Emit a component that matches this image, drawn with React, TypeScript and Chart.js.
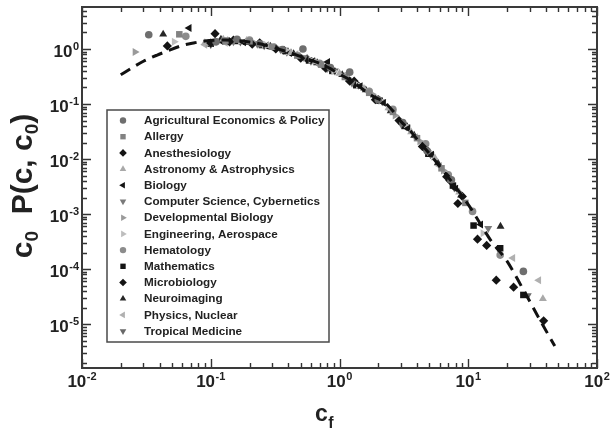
import React, { useEffect, useRef } from 'react';
import { Chart, registerables } from 'chart.js';
import { drawPoint } from 'chart.js/helpers';

Chart.register(...registerables);

// ---------- data ----------
const seriesNames = [
  'Agricultural Economics & Policy',
  'Allergy',
  'Anesthesiology',
  'Astronomy & Astrophysics',
  'Biology',
  'Computer Science, Cybernetics',
  'Developmental Biology',
  'Engineering, Aerospace',
  'Hematology',
  'Mathematics',
  'Microbiology',
  'Neuroimaging',
  'Physics, Nuclear',
  'Tropical Medicine',
];

const agriC = [0.033, 0.11, 0.16, 0.24, 0.36, 0.52, 0.85, 1.2, 2.0, 3.1, 4.8, 7.4, 26.8];
const agriV = [1.82, 1.35, 1.5, 1.25, 0.98, 1.0, 0.46, 0.38, 0.12, 0.046, 0.014, 0.0042, 9.1e-5];

const allergyC = [0.057, 0.13, 0.2, 0.3, 0.47, 0.72, 1.1, 1.7, 2.6, 4.0, 6.2, 9.5];
const allergyV = [1.85, 1.42, 1.38, 1.1, 0.76, 0.52, 0.31, 0.16, 0.072, 0.024, 0.0068, 0.0016];

const anesC = [0.046, 0.1, 0.14, 0.21, 0.32, 0.5, 0.78, 1.2, 1.9, 2.9, 4.4, 6.8, 8.3, 11.8, 16.5, 22.5];
const anesV = [1.14, 1.28, 1.35, 1.22, 1.0, 0.68, 0.45, 0.26, 0.12, 0.05, 0.017, 0.0048, 0.00156, 3.5e-4, 6.3e-5, 4.7e-5];

const astroC = [0.09, 0.125, 0.19, 0.28, 0.42, 0.65, 1.0, 1.55, 2.4, 3.6, 5.5, 8.5, 38];
const astroV = [1.3, 1.5, 1.42, 1.15, 0.86, 0.58, 0.36, 0.19, 0.085, 0.031, 0.0105, 0.0025, 2.9e-5];

const bioC = [0.068, 0.12, 0.18, 0.27, 0.41, 0.62, 0.81, 1.45, 2.2, 3.4, 5.2, 8.0, 12.5];
const bioV = [2.4, 1.4, 1.33, 1.15, 0.85, 0.6, 0.58, 0.21, 0.105, 0.036, 0.012, 0.0029, 6.5e-4];

const csC = [0.1, 0.15, 0.23, 0.35, 0.53, 0.8, 1.25, 1.9, 3.0, 4.6, 7.0, 14.3];
const csV = [1.2, 1.36, 1.22, 0.97, 0.7, 0.44, 0.24, 0.13, 0.044, 0.016, 0.0044, 5.5e-4];

const devC = [0.0258, 0.095, 0.14, 0.22, 0.33, 0.5, 0.76, 1.15, 1.8, 2.7, 4.2, 6.4];
const devV = [0.885, 1.25, 1.45, 1.28, 1.04, 0.74, 0.48, 0.3, 0.15, 0.062, 0.021, 0.0062];

const engC = [0.052, 0.11, 0.17, 0.26, 0.4, 0.6, 0.9, 1.4, 2.1, 3.3, 5.0, 13];
const engV = [1.36, 1.32, 1.4, 1.22, 0.9, 0.63, 0.4, 0.22, 0.115, 0.04, 0.0135, 4.5e-4];

const hemC = [0.064, 0.13, 0.2, 0.31, 0.7, 1.7, 2.6, 4.67, 7.0, 10.8, 17.7];
const hemV = [1.7, 1.38, 1.45, 1.08, 0.55, 0.17, 0.08, 0.019, 0.0052, 1.12e-3, 1.8e-4];

const mathC = [0.1, 0.16, 0.25, 0.38, 0.58, 0.88, 1.35, 2.05, 3.2, 4.9, 7.6, 11, 17.7, 26.8];
const mathV = [1.25, 1.4, 1.18, 0.92, 0.62, 0.4, 0.22, 0.115, 0.04, 0.0125, 0.0033, 6.2e-4, 2.4e-4, 3.4e-5];

const microC = [0.108, 0.15, 0.24, 0.37, 0.56, 0.86, 1.3, 2.0, 3.1, 4.7, 7.2, 9.0, 13.9, 38.5];
const microV = [1.9, 1.45, 1.3, 0.95, 0.66, 0.43, 0.26, 0.12, 0.044, 0.015, 0.0041, 0.0021, 2.7e-4, 1.15e-5];

const neuroC = [0.0427, 0.12, 0.19, 0.29, 0.44, 0.67, 1.05, 1.6, 2.5, 3.8, 5.8, 8.8, 17.8];
const neuroV = [1.85, 1.5, 1.3, 1.12, 0.82, 0.56, 0.34, 0.18, 0.075, 0.027, 0.0085, 0.0022, 6e-4];

const physC = [0.09, 0.13, 0.2, 0.3, 0.46, 0.7, 1.08, 1.65, 2.5, 3.9, 6.0, 22.2, 35.3];
const physV = [1.2, 1.3, 1.35, 1.05, 0.8, 0.52, 0.33, 0.17, 0.078, 0.025, 0.0075, 1.6e-4, 6.3e-5];

const tropC = [0.11, 0.17, 0.26, 0.39, 0.6, 0.92, 1.4, 2.15, 3.3, 5.1, 7.8, 29];
const tropV = [1.4, 1.35, 1.15, 0.88, 0.6, 0.4, 0.22, 0.11, 0.039, 0.012, 0.003, 3.3e-5];

// dashed fit curve
const fitC = [0.02, 0.025, 0.03, 0.038, 0.045, 0.06, 0.075, 0.09, 0.11, 0.13, 0.16, 0.2, 0.25, 0.3, 0.37, 0.45, 0.55, 0.7, 0.85, 1.0, 1.25, 1.5, 1.8, 2.2, 2.6, 3.0, 3.5, 4.0, 5.0, 6.5, 8.0, 10.5, 12, 15, 20, 26, 36, 47];
const fitV = [0.34, 0.47, 0.6, 0.77, 0.9, 1.16, 1.3, 1.4, 1.45, 1.46, 1.43, 1.34, 1.22, 1.08, 0.93, 0.8, 0.67, 0.55, 0.44, 0.35, 0.26, 0.19, 0.14, 0.11, 0.075, 0.048, 0.034, 0.023, 0.0125, 0.0058, 0.0031, 0.00126, 7.6e-4, 3.3e-4, 1.4e-4, 4.8e-5, 1.2e-5, 4e-6];

const seriesC = [agriC, allergyC, anesC, astroC, bioC, csC, devC, engC, hemC, mathC, microC, neuroC, physC, tropC];
const seriesV = [agriV, allergyV, anesV, astroV, bioV, csV, devV, engV, hemV, mathV, microV, neuroV, physV, tropV];

const seriesColors = ['#6e6e6e', '#828282', '#141414', '#a9a9a9', '#141414', '#7a7a7a', '#9a9a9a', '#bdbdbd', '#8c8c8c', '#141414', '#141414', '#262626', '#b0b0b0', '#686868'];
const seriesStyles = ['circle', 'rect', 'rectRot', 'triangle', 'triangle', 'triangle', 'triangle', 'triangle', 'circle', 'rect', 'rectRot', 'triangle', 'triangle', 'triangle'];
const seriesRotations = [0, 0, 0, 0, 270, 180, 90, 90, 0, 0, 0, 0, 270, 180];

const xMin = 0.01;
const xMax = 100;
const yMin = 1.6e-6;
const yMax = 5.8;
const xDecades = [-2, -1, 0, 1, 2];
const yDecades = [-6, -5, -4, -3, -2, -1, 0];

const FONT = "'Liberation Sans', Arial, Helvetica, sans-serif";
const INK = '#222222';

function drawPow(ctx: CanvasRenderingContext2D, e: number, x: number, y: number, align: 'center' | 'right') {
  ctx.font = `bold 17px ${FONT}`;
  const wb = ctx.measureText('10').width;
  ctx.font = `bold 11px ${FONT}`;
  const exp = String(e);
  const we = ctx.measureText(exp).width;
  const total = wb + we + 0.5;
  const sx = align === 'center' ? x - total / 2 : x - total;
  ctx.textAlign = 'left';
  ctx.textBaseline = 'alphabetic';
  ctx.font = `bold 17px ${FONT}`;
  ctx.fillText('10', sx, y);
  ctx.font = `bold 11px ${FONT}`;
  ctx.fillText(exp, sx + wb + 0.5, y - 7);
}

const overlayPlugin = {
  id: 'overlay',
  afterDatasetsDraw(chart: any) {
    const ctx: CanvasRenderingContext2D = chart.ctx;
    const xs = chart.scales.x;
    const ys = chart.scales.y;
    const { left, right, top, bottom } = chart.chartArea;
    ctx.save();

    // legend box
    const lx0 = 107, ly0 = 110, lx1 = 329, ly1 = 342;
    ctx.fillStyle = '#ffffff';
    ctx.fillRect(lx0, ly0, lx1 - lx0, ly1 - ly0);
    ctx.strokeStyle = '#4a4a4a';
    ctx.lineWidth = 1.5;
    ctx.strokeRect(lx0, ly0, lx1 - lx0, ly1 - ly0);
    chart.data.datasets.forEach((ds: any, i: number) => {
      if (i >= seriesNames.length) return;
      const ry = 120.5 + i * 16.2;
      ctx.fillStyle = ds.backgroundColor;
      ctx.strokeStyle = ds.backgroundColor;
      drawPoint(ctx, { pointStyle: ds.pointStyle, rotation: ds.pointRotation, radius: ds.pointStyle === 'circle' ? 3.2 : 3.8, borderWidth: 0 } as any, 123, ry);
      ctx.fillStyle = INK;
      ctx.font = `bold 11.7px ${FONT}`;
      ctx.textAlign = 'left';
      ctx.textBaseline = 'middle';
      ctx.fillText(ds.label, 144, ry + 0.5);
    });

    // ticks
    ctx.strokeStyle = '#333333';
    ctx.lineWidth = 1.4;
    ctx.beginPath();
    xDecades.forEach((e) => {
      for (let m = 1; m <= 9; m++) {
        const v = m * Math.pow(10, e);
        if (v < xMin * 0.999 || v > xMax * 1.001) continue;
        const px = Math.round(xs.getPixelForValue(v)) + 0.5;
        const len = m === 1 ? 9 : 5;
        ctx.moveTo(px, bottom);
        ctx.lineTo(px, bottom - len);
        ctx.moveTo(px, top);
        ctx.lineTo(px, top + len);
      }
    });
    yDecades.forEach((e) => {
      for (let m = 1; m <= 9; m++) {
        const v = m * Math.pow(10, e);
        if (v < yMin || v > yMax) continue;
        const py = Math.round(ys.getPixelForValue(v)) + 0.5;
        const len = m === 1 ? 9 : 5;
        ctx.moveTo(left, py);
        ctx.lineTo(left + len, py);
        ctx.moveTo(right, py);
        ctx.lineTo(right - len, py);
      }
    });
    ctx.stroke();

    // frame
    ctx.strokeStyle = '#3a3a3a';
    ctx.lineWidth = 2;
    ctx.strokeRect(left, top, right - left, bottom - top);

    // tick labels
    ctx.fillStyle = INK;
    xDecades.forEach((e) => {
      drawPow(ctx, e, xs.getPixelForValue(Math.pow(10, e)), bottom + 19, 'center');
    });
    yDecades.forEach((e) => {
      const v = Math.pow(10, e);
      if (v < yMin || v > yMax) return;
      drawPow(ctx, e, left - 3, ys.getPixelForValue(v) + 8, 'right');
    });

    // x title c_f
    ctx.textAlign = 'left';
    ctx.textBaseline = 'alphabetic';
    ctx.font = `bold 23px ${FONT}`;
    ctx.fillText('c', 315, 421);
    const wc = ctx.measureText('c').width;
    ctx.font = `bold 16px ${FONT}`;
    ctx.fillText('f', 315 + wc + 0.5, 428);

    // y title c0 P(c, c0)
    const parts = [
      { t: 'c', s: 30, d: 0 },
      { t: '0', s: 19, d: 6 },
      { t: '  P(c, ', s: 30, d: 0 },
      { t: 'c', s: 30, d: 0 },
      { t: '0', s: 19, d: 6 },
      { t: ')', s: 30, d: 0 },
    ];
    let total = 0;
    parts.forEach((p) => {
      ctx.font = `bold ${p.s}px ${FONT}`;
      total += ctx.measureText(p.t).width;
    });
    ctx.translate(32, 186);
    ctx.rotate(-Math.PI / 2);
    let cx = -total / 2;
    parts.forEach((p) => {
      ctx.font = `bold ${p.s}px ${FONT}`;
      ctx.fillText(p.t, cx, p.d);
      cx += ctx.measureText(p.t).width;
    });

    ctx.restore();
  },
};

export default function App() {
  const canvasRef = useRef<HTMLCanvasElement | null>(null);

  useEffect(() => {
    if (!canvasRef.current) return;
    const datasets: any[] = seriesNames.map((name, i) => ({
      type: 'scatter',
      label: name,
      data: seriesC[i].map((c, j) => ({ x: c, y: seriesV[i][j] })),
      pointStyle: seriesStyles[i],
      pointRotation: seriesRotations[i],
      pointRadius: seriesStyles[i] === 'circle' ? 3.8 : 4.6,
      backgroundColor: seriesColors[i],
      borderColor: seriesColors[i],
      borderWidth: 0,
      showLine: false,
      order: 1,
    }));
    datasets.push({
      type: 'line',
      label: 'fit',
      data: fitC.map((c, j) => ({ x: c, y: fitV[j] })),
      borderColor: '#111111',
      borderWidth: 3,
      borderDash: [11, 7],
      pointRadius: 0,
      fill: false,
      showLine: true,
      cubicInterpolationMode: 'monotone',
      order: 0,
    });

    const chart = new Chart(canvasRef.current, {
      type: 'scatter',
      data: { datasets },
      options: {
        animation: false,
        responsive: false,
        events: [],
        layout: { padding: { left: 82, top: 7, right: 17, bottom: 62 } },
        scales: {
          x: { type: 'logarithmic', min: xMin, max: xMax, display: false },
          y: { type: 'logarithmic', min: yMin, max: yMax, display: false },
        },
        plugins: {
          legend: { display: false },
          tooltip: { enabled: false },
        },
      },
      plugins: [overlayPlugin],
    } as any);
    return () => chart.destroy();
  }, []);

  return (
    <div style={{ position: 'fixed', left: 0, top: 0, width: 614, height: 430, background: '#ffffff' }}>
      <canvas ref={canvasRef} width={614} height={430} style={{ display: 'block', width: 614, height: 430 }} />
    </div>
  );
}
